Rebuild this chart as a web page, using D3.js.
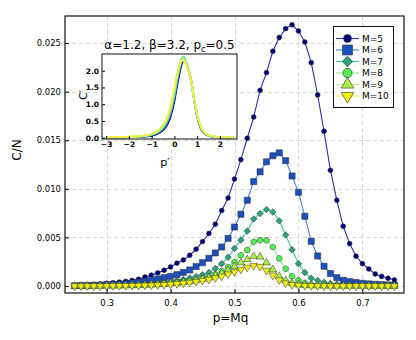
<!DOCTYPE html>
<html>
<head>
<meta charset="utf-8">
<script src="https://cdn.jsdelivr.net/npm/d3@7"></script>
<style>
    body { margin: 0; background: #fff; }
    svg { display: block; }
    text { font-family: "DejaVu Sans", sans-serif; fill: #000; }
</style>
</head>
<body>
<svg id="chart" width="416" height="340"></svg>
<script>
// ---- data ----
const pValues = [0.25, 0.26, 0.27, 0.28, 0.29, 0.30, 0.31, 0.32, 0.33, 0.34,
    0.35, 0.36, 0.37, 0.38, 0.39, 0.40, 0.41, 0.42, 0.43, 0.44,
    0.45, 0.46, 0.47, 0.48, 0.49, 0.50, 0.51, 0.52, 0.53, 0.54,
    0.55, 0.56, 0.57, 0.58, 0.59, 0.60, 0.61, 0.62, 0.63, 0.64,
    0.65, 0.66, 0.67, 0.68, 0.69, 0.70, 0.71, 0.72, 0.73, 0.74, 0.75];

const seriesNames = ['M=5', 'M=6', 'M=7', 'M=8', 'M=9', 'M=10'];

const cM5 = [0.00008, 0.00010, 0.00013, 0.00017, 0.00022, 0.00028, 0.00034, 0.00040, 0.00048, 0.00058,
    0.00069, 0.00093, 0.00112, 0.00135, 0.00162, 0.00195, 0.00235, 0.00268, 0.00316, 0.00378,
    0.00457, 0.00540, 0.00635, 0.00776, 0.00905, 0.01100, 0.01300, 0.01520, 0.01738, 0.02013,
    0.02195, 0.02415, 0.02556, 0.02648, 0.02688, 0.02623, 0.02510, 0.02298, 0.01965, 0.01592,
    0.01190, 0.00882, 0.00614, 0.00436, 0.00306, 0.00230, 0.00175, 0.00123, 0.00098, 0.00080, 0.00062];

const cM6 = [0.00003, 0.00004, 0.00005, 0.00007, 0.00009, 0.00012, 0.00015, 0.00019, 0.00024, 0.00030,
    0.00038, 0.00048, 0.00060, 0.00072, 0.00086, 0.00100, 0.00117, 0.00140, 0.00165, 0.00200,
    0.00240, 0.00285, 0.00340, 0.00401, 0.00490, 0.00607, 0.00738, 0.00882, 0.01074, 0.01175,
    0.01278, 0.01340, 0.01370, 0.01290, 0.01132, 0.00964, 0.00717, 0.00460, 0.00309, 0.00203,
    0.00128, 0.00086, 0.00059, 0.00046, 0.00036, 0.00028, 0.00022, 0.00018, 0.00014, 0.00011, 0.00009];

const cM7 = [0.00001, 0.00001, 0.00002, 0.00002, 0.00003, 0.00004, 0.00005, 0.00007, 0.00009, 0.00012,
    0.00015, 0.00019, 0.00024, 0.00030, 0.00037, 0.00046, 0.00056, 0.00068, 0.00082, 0.00098,
    0.00115, 0.00140, 0.00180, 0.00230, 0.00295, 0.00388, 0.00474, 0.00565, 0.00690, 0.00745,
    0.00788, 0.00761, 0.00670, 0.00525, 0.00374, 0.00230, 0.00138, 0.00079, 0.00056, 0.00038,
    0.00026, 0.00018, 0.00012, 0.00008, 0.00006, 0.00004, 0.00003, 0.00002, 0.00002, 0.00001, 0.00001];

const cM8 = [0.00000, 0.00001, 0.00001, 0.00001, 0.00002, 0.00002, 0.00003, 0.00004, 0.00005, 0.00007,
    0.00009, 0.00012, 0.00015, 0.00019, 0.00024, 0.00030, 0.00037, 0.00045, 0.00055, 0.00066,
    0.00080, 0.00098, 0.00122, 0.00155, 0.00195, 0.00247, 0.00316, 0.00370, 0.00455, 0.00470,
    0.00470, 0.00400, 0.00284, 0.00177, 0.00100, 0.00058, 0.00032, 0.00018, 0.00010, 0.00006,
    0.00004, 0.00003, 0.00002, 0.00001, 0.00001, 0.00001, 0.00001, 0.00000, 0.00000, 0.00000, 0.00000];

const cM9 = [0.00000, 0.00000, 0.00001, 0.00001, 0.00001, 0.00002, 0.00002, 0.00003, 0.00004, 0.00005,
    0.00007, 0.00009, 0.00012, 0.00015, 0.00019, 0.00024, 0.00030, 0.00037, 0.00046, 0.00057,
    0.00070, 0.00085, 0.00105, 0.00130, 0.00160, 0.00200, 0.00240, 0.00272, 0.00305, 0.00300,
    0.00240, 0.00170, 0.00100, 0.00055, 0.00028, 0.00014, 0.00008, 0.00005, 0.00003, 0.00002,
    0.00001, 0.00001, 0.00001, 0.00001, 0.00000, 0.00000, 0.00000, 0.00000, 0.00000, 0.00000, 0.00000];

const cM10 = [0.00000, 0.00000, 0.00000, 0.00001, 0.00001, 0.00001, 0.00002, 0.00002, 0.00003, 0.00004,
    0.00005, 0.00007, 0.00009, 0.00011, 0.00014, 0.00018, 0.00023, 0.00029, 0.00036, 0.00045,
    0.00056, 0.00068, 0.00083, 0.00100, 0.00122, 0.00145, 0.00170, 0.00192, 0.00210, 0.00200,
    0.00160, 0.00110, 0.00062, 0.00030, 0.00014, 0.00007, 0.00004, 0.00002, 0.00001, 0.00001,
    0.00000, 0.00000, 0.00000, 0.00000, 0.00000, 0.00000, 0.00000, 0.00000, 0.00000, 0.00000, 0.00000];

const xTicks = [0.3, 0.4, 0.5, 0.6, 0.7];
const yTicks = [0, 0.005, 0.010, 0.015, 0.020, 0.025];

// inset: rescaled curves C' against p'
const insetP = [-2.95, -2.5, -2, -1.5, -1.2, -1, -0.8, -0.6, -0.4, -0.2,
    0, 0.1, 0.2, 0.3, 0.4, 0.5, 0.6, 0.7, 0.8, 0.9,
    1.0, 1.2, 1.4, 1.7, 2.0, 2.6];
const insetM5 = [0.01, 0.01, 0.015, 0.025, 0.04, 0.06, 0.10, 0.17, 0.30, 0.57,
    1.10, 1.50, 1.85, 2.15, 2.28, 2.22, 2.05, 1.82, 1.45, 1.00,
    0.65, 0.22, 0.09, 0.03, 0.015, 0.01];
const insetM6 = [0.01, 0.012, 0.018, 0.03, 0.05, 0.075, 0.12, 0.20, 0.35, 0.65,
    1.20, 1.60, 1.95, 2.22, 2.35, 2.25, 2.05, 1.80, 1.43, 1.00,
    0.66, 0.24, 0.10, 0.03, 0.015, 0.01];
const insetM7 = [0.012, 0.014, 0.02, 0.035, 0.06, 0.09, 0.14, 0.23, 0.40, 0.72,
    1.30, 1.68, 2.02, 2.30, 2.42, 2.28, 2.06, 1.80, 1.44, 1.02,
    0.68, 0.25, 0.10, 0.035, 0.016, 0.012];
const insetM8 = [0.014, 0.016, 0.023, 0.04, 0.065, 0.10, 0.15, 0.25, 0.43, 0.76,
    1.36, 1.74, 2.06, 2.32, 2.40, 2.26, 2.04, 1.80, 1.44, 1.03,
    0.69, 0.26, 0.10, 0.036, 0.017, 0.013];
const insetM9 = [0.016, 0.018, 0.026, 0.045, 0.07, 0.11, 0.165, 0.28, 0.47, 0.81,
    1.43, 1.80, 2.10, 2.30, 2.34, 2.22, 2.03, 1.80, 1.45, 1.04,
    0.70, 0.27, 0.11, 0.04, 0.018, 0.014];
const insetM10 = [0.02, 0.02, 0.03, 0.05, 0.08, 0.12, 0.18, 0.30, 0.50, 0.85,
    1.50, 1.85, 2.12, 2.28, 2.30, 2.20, 2.02, 1.80, 1.45, 1.05,
    0.70, 0.28, 0.11, 0.04, 0.02, 0.015];
const insetXTicks = [-3, -2, -1, 0, 1, 2];
const insetYTicks = [0, 0.5, 1.0, 1.5, 2.0];

// ---- styles ----
const fills = ['#00007e', '#1c4fbf', '#2ca57a', '#52ee52', '#aef04e', '#eef01c'];
const lineColors = ['#2e2eaa', '#4a80dc', '#3cc49a', '#88f088', '#c0f27c', '#f0f04c'];

const octagon = {
    draw(ctx, size) {
        const r = Math.sqrt(size / (2 * Math.SQRT2));
        for (let i = 0; i < 8; i++) {
            const a = Math.PI / 8 + i * Math.PI / 4;
            if (i === 0) ctx.moveTo(r * Math.cos(a), r * Math.sin(a));
            else ctx.lineTo(r * Math.cos(a), r * Math.sin(a));
        }
        ctx.closePath();
    }
};

const markers = [
    {type: d3.symbolCircle, size: 19, rotate: 0},
    {type: d3.symbolSquare, size: 38, rotate: 0},
    {type: d3.symbolSquare, size: 21, rotate: 45},
    {type: octagon, size: 25, rotate: 0},
    {type: d3.symbolTriangle, size: 26, rotate: 0},
    {type: d3.symbolTriangle, size: 26, rotate: 180}
];

const series = [cM5, cM6, cM7, cM8, cM9, cM10];
const insetSeries = [insetM5, insetM6, insetM7, insetM8, insetM9, insetM10];

const svg = d3.select('#chart');

const plotLeft = 65, plotRight = 404, plotTop = 16, plotBottom = 293;

const x = d3.scaleLinear().domain([0.235, 0.765]).range([plotLeft, plotRight]);
const y = d3.scaleLinear().domain([-0.00072, 0.02778]).range([plotBottom, plotTop]);

// grid
const grid = svg.append('g')
    .attr('stroke', '#d6d6d6')
    .attr('stroke-width', 1)
    .attr('stroke-dasharray', '4,3');

grid.selectAll('line.gx')
    .data(xTicks)
    .join('line')
    .attr('class', 'gx')
    .attr('x1', d => Math.round(x(d)) + 0.5)
    .attr('x2', d => Math.round(x(d)) + 0.5)
    .attr('y1', plotTop)
    .attr('y2', plotBottom);

grid.selectAll('line.gy')
    .data(yTicks)
    .join('line')
    .attr('class', 'gy')
    .attr('x1', plotLeft)
    .attr('x2', plotRight)
    .attr('y1', d => Math.round(y(d)) + 0.5)
    .attr('y2', d => Math.round(y(d)) + 0.5);

// series
const line = d3.line()
    .x((d, i) => x(pValues[i]))
    .y(d => y(d));

series.forEach((values, k) => {
    const g = svg.append('g');

    g.append('path')
        .datum(values)
        .attr('d', line)
        .attr('fill', 'none')
        .attr('stroke', lineColors[k])
        .attr('stroke-width', 1.1);

    const m = markers[k];
    const symbol = d3.symbol().type(m.type).size(m.size);

    g.selectAll('path.mk')
        .data(values)
        .join('path')
        .attr('class', 'mk')
        .attr('d', symbol)
        .attr('transform', (d, i) => `translate(${x(pValues[i])},${y(d)}) rotate(${m.rotate})`)
        .attr('fill', fills[k])
        .attr('stroke', '#2a2a2a')
        .attr('stroke-width', 0.5);
});

// axes
const xAxis = d3.axisBottom(x)
    .tickValues(xTicks)
    .tickFormat(d3.format('.1f'))
    .tickSizeInner(-4)
    .tickSizeOuter(0)
    .tickPadding(7);

const yAxis = d3.axisLeft(y)
    .tickValues(yTicks)
    .tickFormat(d3.format('.3f'))
    .tickSizeInner(-4)
    .tickSizeOuter(0)
    .tickPadding(4);

svg.append('g')
    .attr('transform', `translate(0,${plotBottom})`)
    .call(xAxis)
    .call(g => g.select('.domain').remove())
    .call(g => g.selectAll('text').attr('font-size', 8.5).attr('font-family', '"DejaVu Sans", sans-serif'));

svg.append('g')
    .attr('transform', `translate(${plotLeft},0)`)
    .call(yAxis)
    .call(g => g.select('.domain').remove())
    .call(g => g.selectAll('text').attr('font-size', 8.5).attr('font-family', '"DejaVu Sans", sans-serif'));

svg.append('rect')
    .attr('x', plotLeft)
    .attr('y', plotTop)
    .attr('width', plotRight - plotLeft)
    .attr('height', plotBottom - plotTop)
    .attr('fill', 'none')
    .attr('stroke', '#111')
    .attr('stroke-width', 1.2);

svg.append('text')
    .attr('x', (plotLeft + plotRight) / 2 - 4)
    .attr('y', 322)
    .attr('text-anchor', 'middle')
    .attr('font-size', 12)
    .text('p=Mq');

svg.append('text')
    .attr('transform', 'translate(21,150) rotate(-90)')
    .attr('text-anchor', 'middle')
    .attr('font-size', 12)
    .text('C/N');

// legend
const legend = svg.append('g');

legend.append('rect')
    .attr('x', 333.5)
    .attr('y', 26.5)
    .attr('width', 60)
    .attr('height', 81)
    .attr('fill', '#fff')
    .attr('stroke', '#111')
    .attr('stroke-width', 1);

seriesNames.forEach((name, k) => {
    const ly = 38.5 + k * 11.5;
    const m = markers[k];

    legend.append('line')
        .attr('x1', 336)
        .attr('x2', 359)
        .attr('y1', ly)
        .attr('y2', ly)
        .attr('stroke', lineColors[k])
        .attr('stroke-width', 1.1);

    legend.append('path')
        .attr('d', d3.symbol().type(m.type).size(m.size * 2.6)())
        .attr('transform', `translate(347.5,${ly}) rotate(${m.rotate})`)
        .attr('fill', fills[k])
        .attr('stroke', '#2a2a2a')
        .attr('stroke-width', 0.6);

    legend.append('text')
        .attr('x', 362)
        .attr('y', ly + 3.3)
        .attr('font-size', 9)
        .text(name);
});

// inset
const iLeft = 102, iRight = 237, iTop = 54, iBottom = 139;

const ix = d3.scaleLinear().domain([-3.18, 2.75]).range([iLeft, iRight]);
const iy = d3.scaleLinear().domain([-0.04, 2.5]).range([iBottom, iTop]);

svg.append('rect')
    .attr('x', iLeft)
    .attr('y', iTop)
    .attr('width', iRight - iLeft)
    .attr('height', iBottom - iTop)
    .attr('fill', '#fff');

const insetLine = d3.line()
    .x((d, i) => ix(insetP[i]))
    .y(d => iy(d))
    .curve(d3.curveMonotoneX);

insetSeries.forEach((values, k) => {
    svg.append('path')
        .datum(values)
        .attr('d', insetLine)
        .attr('fill', 'none')
        .attr('stroke', k === 0 ? fills[0] : lineColors[k])
        .attr('stroke-width', 2);
});

svg.append('g')
    .attr('transform', `translate(0,${iBottom})`)
    .call(d3.axisBottom(ix).tickValues(insetXTicks).tickFormat(d3.format('d')).tickSizeInner(-3).tickSizeOuter(0).tickPadding(3))
    .call(g => g.select('.domain').remove())
    .call(g => g.selectAll('text').attr('font-size', 7.5).attr('font-weight', 'bold').attr('font-family', '"DejaVu Sans", sans-serif'));

svg.append('g')
    .attr('transform', `translate(${iLeft},0)`)
    .call(d3.axisLeft(iy).tickValues(insetYTicks).tickFormat(d3.format('.1f')).tickSizeInner(-3).tickSizeOuter(0).tickPadding(3))
    .call(g => g.select('.domain').remove())
    .call(g => g.selectAll('text').attr('font-size', 7.5).attr('font-weight', 'bold').attr('font-family', '"DejaVu Sans", sans-serif'));

svg.append('rect')
    .attr('x', iLeft)
    .attr('y', iTop)
    .attr('width', iRight - iLeft)
    .attr('height', iBottom - iTop)
    .attr('fill', 'none')
    .attr('stroke', '#111')
    .attr('stroke-width', 1);

svg.append('text')
    .attr('x', 165)
    .attr('y', 166)
    .attr('text-anchor', 'middle')
    .attr('font-size', 11)
    .text('p\u2032');

svg.append('text')
    .attr('transform', 'translate(87,95) rotate(-90)')
    .attr('text-anchor', 'middle')
    .attr('font-size', 11)
    .text('C\u2032');

const title = svg.append('text')
    .attr('x', 169.5)
    .attr('y', 49)
    .attr('text-anchor', 'middle')
    .attr('font-size', 12);

title.append('tspan').text('\u03b1=1.2, \u03b2=3.2, p');
title.append('tspan').attr('font-size', 8).attr('dy', 2.5).text('c');
title.append('tspan').attr('dy', -2.5).text('=0.5');
</script>
</body>
</html>
